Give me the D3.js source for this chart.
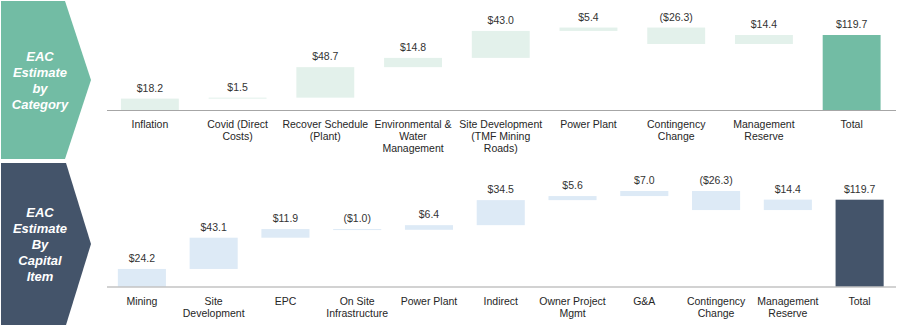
<!DOCTYPE html>
<html><head><meta charset="utf-8">
<script src="https://cdn.jsdelivr.net/npm/d3@7"></script>
<style>
html,body{margin:0;padding:0;background:#fff;}
svg{display:block;font-family:"Liberation Sans",Arial,sans-serif;}
</style></head>
<body>
<svg id="c" width="900" height="326"></svg>
<script>
// ---- data ----
const topCategories = ["Inflation", "Covid (Direct\nCosts)", "Recover Schedule\n(Plant)", "Environmental &\nWater\nManagement", "Site Development\n(TMF Mining\nRoads)", "Power Plant", "Contingency\nChange", "Management\nReserve", "Total"];
const topValues = [18.2, 1.5, 48.7, 14.8, 43.0, 5.4, -26.3, 14.4];
const topTotal = 119.7;
const topTitle = ["EAC", "Estimate", "by", "Category"];

const bottomCategories = ["Mining", "Site\nDevelopment", "EPC", "On Site\nInfrastructure", "Power Plant", "Indirect", "Owner Project\nMgmt", "G&A", "Contingency\nChange", "Management\nReserve", "Total"];
const bottomValues = [24.2, 43.1, 11.9, -1.0, 6.4, 34.5, 5.6, 7.0, -26.3, 14.4];
const bottomTotal = 119.7;
const bottomTitle = ["EAC", "Estimate", "By", "Capital", "Item"];

const svg = d3.select("#c");
const fmt = v => v < 0 ? "($" + d3.format(".1f")(-v) + ")" : "$" + d3.format(".1f")(v);

function panel(cfg) {
  const g = svg.append("g");
  // arrow
  const [y0, y1] = cfg.band;
  const ym = (y0 + y1) / 2;
  g.append("path")
    .attr("d", `M1,${y0} L${cfg.arrowX},${y0} L91,${ym} L${cfg.arrowX},${y1} L1,${y1} Z`)
    .attr("fill", cfg.arrowColor);
  const tt = g.append("text").attr("text-anchor", "middle")
    .attr("fill", "#fff").attr("font-size", 13).attr("font-weight", "bold").attr("font-style", "italic");
  const n = cfg.title.length;
  cfg.title.forEach((t, i) => {
    tt.append("tspan").attr("x", 40).attr("y", ym + (i - (n - 1) / 2) * 16 + 4.5).text(t);
  });

  const x = d3.scaleBand().domain(cfg.categories).range([106, 895.5]).paddingInner(cfg.pad).paddingOuter(cfg.pad / 2);
  const y = d3.scaleLinear().domain([0, cfg.total]).range([cfg.base, cfg.totalTop]);

  // waterfall data
  let cum = 0;
  const bars = cfg.values.map((v, i) => {
    const start = cum; cum += v;
    return { cat: cfg.categories[i], v, lo: Math.min(start, cum), hi: Math.max(start, cum), total: false };
  });
  bars.push({ cat: cfg.categories[cfg.categories.length - 1], v: cfg.total, lo: 0, hi: cfg.total, total: true });

  g.selectAll("rect.b").data(bars).enter().append("rect")
    .attr("x", d => x(d.cat)).attr("width", x.bandwidth())
    .attr("y", d => y(d.hi))
    .attr("height", d => Math.max(1, y(d.lo) - y(d.hi)))
    .attr("fill", d => d.total ? cfg.totalColor : cfg.barColor);

  g.selectAll("text.v").data(bars).enter().append("text")
    .attr("x", d => x(d.cat) + x.bandwidth() / 2)
    .attr("y", d => y(d.hi) - 7)
    .attr("text-anchor", "middle").attr("font-size", 10.5).attr("fill", "#333")
    .text(d => fmt(d.v));

  // axis
  const ax = g.append("g").attr("transform", `translate(0,${cfg.base})`)
    .call(d3.axisBottom(x).tickSize(0).tickSizeOuter(0).tickFormat(""));
  ax.select(".domain").attr("stroke", "#a6a6a6").attr("stroke-width", 1.2)
    .attr("d", `M107,0.5H896`);
  ax.selectAll(".tick text").remove();
  ax.selectAll(".tick").each(function (d) {
    const t = d3.select(this).append("text").attr("text-anchor", "middle")
      .attr("font-size", 10.5).attr("fill", "#262626");
    d.split("\n").forEach((line, i) => {
      t.append("tspan").attr("x", 0).attr("y", cfg.labelDy + i * 12).text(line);
    });
  });
}

panel({
  band: [1, 159], arrowX: 65, arrowColor: "#72BCA4",
  title: topTitle, categories: topCategories, values: topValues, total: topTotal,
  base: 110, totalTop: 35, pad: 0.34, labelDy: 18,
  barColor: "#E3F1EB", totalColor: "#72BCA4"
});
panel({
  band: [163, 325], arrowX: 66, arrowColor: "#44546A",
  title: bottomTitle, categories: bottomCategories, values: bottomValues, total: bottomTotal,
  base: 286.5, totalTop: 199.7, pad: 0.33, labelDy: 18.5,
  barColor: "#DDEAF6", totalColor: "#44546A"
});
</script>
</body></html>
